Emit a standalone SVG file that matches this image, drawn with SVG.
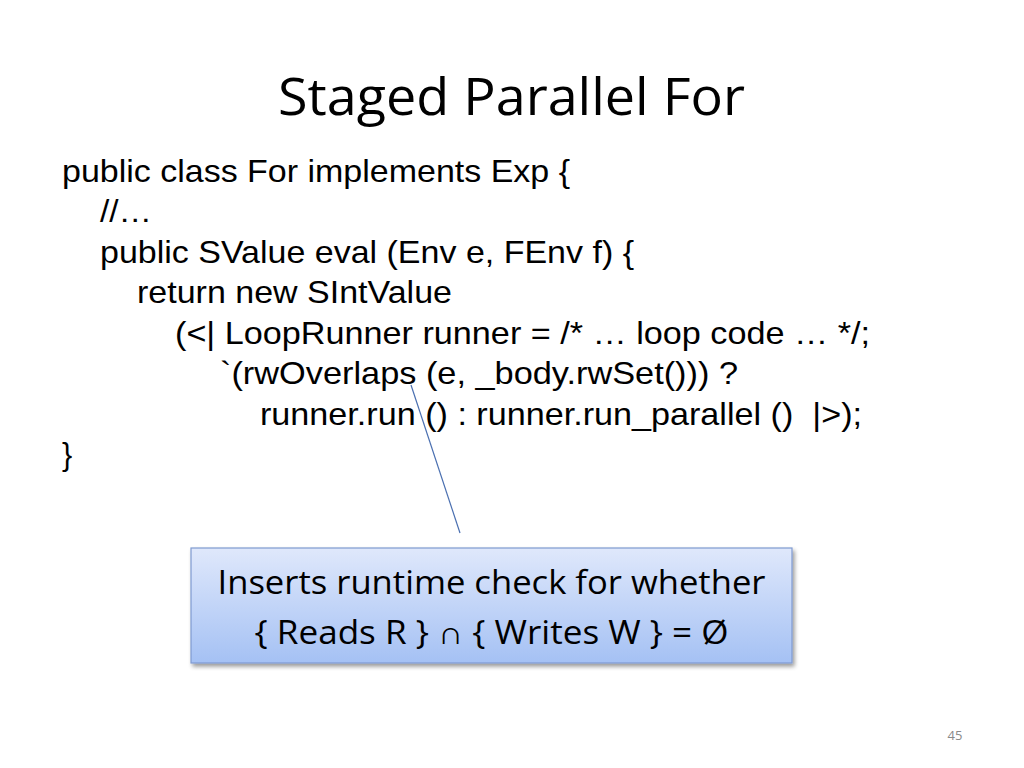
<svg xmlns="http://www.w3.org/2000/svg" width="1024" height="768" viewBox="0 0 1024 768">
<defs>
<linearGradient id="boxfill" x1="0" y1="0" x2="0" y2="1">
<stop offset="0" stop-color="#dfe8fb"/>
<stop offset="1" stop-color="#a5c1f4"/>
</linearGradient>
<filter id="shadow" x="-5%" y="-10%" width="115%" height="130%">
<feGaussianBlur in="SourceAlpha" stdDeviation="2"/>
<feOffset dx="2" dy="3"/>
<feComponentTransfer><feFuncA type="linear" slope="0.4"/></feComponentTransfer>
<feMerge><feMergeNode/><feMergeNode in="SourceGraphic"/></feMerge>
</filter>
</defs>
<style>
.title{font-family:"Open Sans","Noto Sans","Liberation Sans",sans-serif;font-size:51px;fill:#000}
.code{font-family:"Liberation Sans",Arial,sans-serif;font-size:30.5px;fill:#000}
.note{font-family:"Open Sans","Noto Sans","Liberation Sans",sans-serif;font-size:32px;fill:#000}
.pg{font-family:"Open Sans","Liberation Sans",sans-serif;font-size:13px;fill:#8a8a8a}
</style>
<rect width="1024" height="768" fill="#ffffff"/>
<g id="title"><text class="title" x="278" y="115" textLength="467" lengthAdjust="spacingAndGlyphs">Staged Parallel For</text></g>
<g id="code">
<text class="code" x="62" y="182" textLength="508" lengthAdjust="spacingAndGlyphs">public class For implements Exp {</text>
<text class="code" x="100" y="222" textLength="52" lengthAdjust="spacingAndGlyphs">//…</text>
<text class="code" x="100" y="263" textLength="534" lengthAdjust="spacingAndGlyphs">public SValue eval (Env e, FEnv f) {</text>
<text class="code" x="137" y="303" textLength="315" lengthAdjust="spacingAndGlyphs">return new SIntValue</text>
<text class="code" x="175" y="344" textLength="695" lengthAdjust="spacingAndGlyphs">(&lt;| LoopRunner runner = /* … loop code … */;</text>
<text class="code" x="220" y="384" textLength="518" lengthAdjust="spacingAndGlyphs">`(rwOverlaps (e, _body.rwSet())) ?</text>
<text class="code" x="260" y="425" textLength="602" lengthAdjust="spacingAndGlyphs" xml:space="preserve">runner.run () : runner.run_parallel ()  |&gt;);</text>
<text class="code" x="62" y="465">}</text>
</g>
<g id="connectors">
<line x1="411" y1="385" x2="460" y2="533" stroke="#4a6fb0" stroke-width="1.2"/>
</g>
<g id="note">
<rect x="191" y="548" width="601" height="115" fill="url(#boxfill)" stroke="#7f9ad0" stroke-width="1.2" filter="url(#shadow)"/>
<text class="note" x="491.5" y="594" text-anchor="middle" textLength="548" lengthAdjust="spacingAndGlyphs">Inserts runtime check for whether</text>
<text class="note" x="491.5" y="644" text-anchor="middle" textLength="474" lengthAdjust="spacingAndGlyphs">{ Reads R } ∩ { Writes W } = Ø</text>
</g>
<g id="page"><text class="pg" x="955" y="740" text-anchor="middle">45</text></g>
</svg>
